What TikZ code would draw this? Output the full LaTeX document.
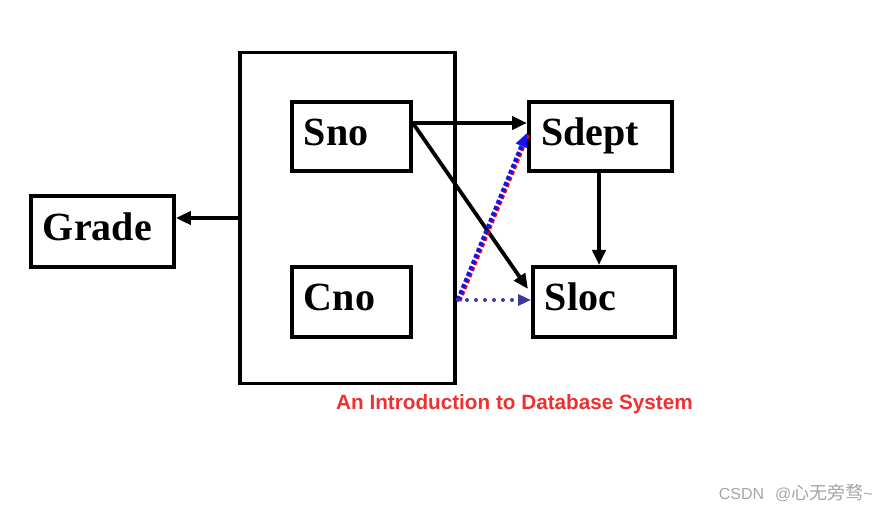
\documentclass[tikz,border=0pt]{standalone}
\usepackage{fontspec}
\setmainfont{Liberation Serif}
\newfontfamily\capfont{Liberation Sans}
\newfontfamily\cjkfont{Noto Sans CJK SC}
\usetikzlibrary{arrows.meta,calc}
\definecolor{capred}{RGB}{238,48,48}
\definecolor{dotblue}{RGB}{20,20,235}
\definecolor{dotpurple}{RGB}{58,58,160}
\definecolor{markgray}{RGB}{165,165,165}
\tikzset{
  attrbox/.style={draw=black, line width=3.8pt, inner xsep=12pt, inner ysep=0pt,
    align=left, font=\fontsize{40}{42}\selectfont\bfseries, anchor=north west,
    text height=27pt, text depth=9pt},
  fd/.style={line width=3.8pt, -{Triangle[length=15pt,width=13pt]}},
}
\begin{document}
\begin{tikzpicture}[x=1pt, y=-1pt]
  \useasboundingbox (0,0) rectangle (887,510);
  % composite key frame
  \node[draw=black, line width=3.5pt, minimum width=215pt, minimum height=331pt, anchor=north west,
        inner sep=0pt] (key) at (238,51) {};
  % attribute boxes
  \node[attrbox, minimum width=119pt, minimum height=69pt, text width=95pt] (sno) at (290,100) {Sno};
  \node[attrbox, minimum width=119pt, minimum height=70pt, text width=95pt] (cno) at (290,265) {Cno};
  \node[attrbox, minimum width=143pt, minimum height=69pt, text width=118pt, inner xsep=12.5pt] (sdept) at (527,100) {Sdept};
  \node[attrbox, minimum width=142pt, minimum height=70pt, text width=118pt] (sloc) at (531,265) {Sloc};
  \node[attrbox, minimum width=143pt, minimum height=71pt, text width=119pt] (grade) at (29,194) {Grade};

  % dependency arrows
  \coordinate (snoout) at ($(sno.north east)+(0,23)$);
  \draw[fd] (snoout) -- (snoout -| sdept.west);
  \draw[fd] (snoout) -- ($(sloc.north west)+(-3,24)$);
  \draw[fd] (sdept.south -| 599,0) -- (sloc.north -| 599,0);
  \draw[fd] (key.west |- 0,218) -- (grade.east |- 0,218);

  % transitive dependency, dotted
  \coordinate (trans) at (458,300);
  \draw[red, line width=4.5pt, dash pattern=on 4pt off 2.5pt] ($(trans)+(1.2,0.8)$) -- ($(sdept.west |- 0,133)+(1.2,0.8)$);
  \draw[dotblue, line width=4.5pt, dash pattern=on 4pt off 2.5pt,
        -{Triangle[length=14pt,width=12pt]}] (trans) -- (sdept.west |- 0,133);
  \draw[dotpurple, line width=4pt, line cap=round, dash pattern=on 0pt off 9pt,
        -{Triangle[length=13pt,width=11pt,line cap=butt]}] (trans) -- (sloc.west |- 0,300);

  % caption and mark
  \node[capred, font=\capfont\fontsize{20.7}{22}\selectfont\bfseries, anchor=base west, inner sep=0pt]
    (cap) at (336,410) {An Introduction to Database System};
  \node[markgray, font=\capfont\fontsize{16}{18}\selectfont, anchor=base east, inner sep=0pt]
    (mark) at (873,500) {CSDN\hspace{11pt}@{\cjkfont\fontsize{18}{18}\selectfont 心无旁骛}\textasciitilde};
\end{tikzpicture}
\end{document}
